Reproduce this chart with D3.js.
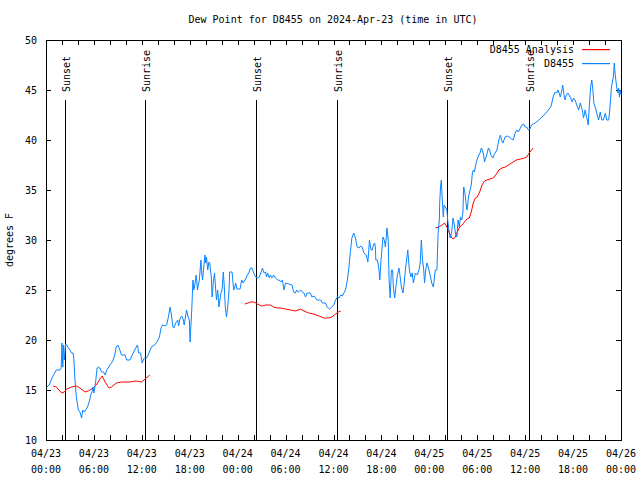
<!DOCTYPE html>
<html>
<head>
<meta charset="utf-8">
<script src="https://cdn.jsdelivr.net/npm/d3@7"></script>
<style>
body{margin:0;background:#fff;}
svg{display:block;}
text{font-family:"DejaVu Sans Mono","Liberation Mono",monospace;font-size:10px;fill:#000;}
</style>
</head>
<body>
<svg id="chart" width="640" height="480"></svg>
<script>
// ---- data (hours since 2024-04-23 00:00 UTC, degrees F) ----
const titleText = "Dew Point for D8455 on 2024-Apr-23 (time in UTC)";
const yLabel = "degrees F";
const seriesNames = ["D8455 Analysis", "D8455"];
const yTicks = [10, 15, 20, 25, 30, 35, 40, 45, 50];
const sunsets = [2.34, 26.3, 50.25];
const sunrises = [12.43, 36.48, 60.44];

const observed = [
[0.1,15.3],[0.4,15.5],[0.8,16.3],[1.3,17.0],[1.75,17.0],[1.9,17.2],[2.0,19.7],[2.1,17.3],[2.2,19.5],[2.3,18.0],[2.45,19.6],[2.6,19.5],[2.8,19.2],[3.0,19.0],[3.2,18.7],[3.4,18.7],[3.5,18.0],[3.6,16.3],[3.8,14.3],[4.05,13.0],[4.25,12.8],[4.46,12.2],[4.6,13.0],[4.8,12.8],[4.95,13.0],[5.2,13.3],[5.4,13.8],[5.6,14.5],[5.75,14.8],[5.9,15.3],[6.0,14.7],[6.2,15.7],[6.4,17.2],[6.55,17.3],[6.75,17.2],[6.96,16.8],[7.2,16.8],[7.4,16.5],[7.6,17.0],[7.8,17.2],[8.0,17.5],[8.2,17.7],[8.4,18.0],[8.6,18.5],[8.8,19.3],[9.0,19.5],[9.25,19.0],[9.46,18.5],[9.9,18.5],[10.1,18.0],[10.5,18.0],[10.8,18.5],[11.1,19.0],[11.46,19.5],[11.6,18.7],[11.85,18.7],[12.04,17.7],[12.3,18.2],[12.6,18.2],[12.9,18.7],[13.2,19.3],[13.6,19.5],
[13.9,19.8],[14.2,20.3],[14.4,21.2],[14.6,21.5],[14.9,21.4],[15.1,21.5],[15.3,22.2],[15.54,23.3],[15.7,22.5],[15.9,21.3],[16.0,21.2],[16.25,21.7],[16.5,22.0],[16.6,21.4],[16.8,22.2],[17.0,22.4],[17.2,22.0],[17.3,21.5],[17.4,22.0],[17.6,23.0],[17.8,22.3],[17.95,22.0],[18.04,19.8],[18.1,20.8],[18.25,23.0],[18.4,26.0],[18.5,25.0],[18.6,25.3],[18.8,26.5],[18.9,25.7],[18.96,25.0],[19.2,26.0],[19.4,28.0],[19.5,26.7],[19.6,26.0],[19.7,26.8],[19.9,28.5],[20.0,27.7],[20.1,28.3],[20.25,27.0],[20.4,27.8],[20.5,27.7],[20.7,26.3],[20.8,24.3],[20.95,25.8],[21.1,26.7],[21.25,25.0],[21.35,24.0],[21.5,25.0],[21.66,23.3],[21.9,24.7],[22.05,25.0],[22.2,26.8],[22.3,25.7],[22.45,23.3],[22.6,22.3],[22.75,23.3],[22.9,24.7],[23.0,26.8],[23.3,26.8],[23.5,25.0],[23.6,25.2],[23.75,25.7],[23.9,25.1],[24.3,25.1],[24.5,26.0],[24.7,25.7],[25.0,26.1],[25.2,26.5],[25.4,26.7],[25.6,27.2],[25.8,27.2],[26.0,26.7],[26.25,26.3],[26.46,26.2],[26.7,26.3],[26.9,26.7],[27.1,27.2],[27.3,26.7],[27.5,26.8],[27.6,26.3],[27.75,26.7],[27.96,26.2],[28.1,26.5],[28.3,26.2],[28.5,26.5],[28.75,26.2],[29.0,26.0],[29.2,26.0],[29.4,25.8],[29.6,26.0],[29.8,25.0],[30.0,25.7],[30.4,25.6],[30.8,25.5],[31.0,24.8],[31.2,24.7],[31.4,25.0],[31.6,24.8],[31.9,25.0],[32.1,24.8],[32.3,24.7],[32.5,24.3],[32.7,24.7],[33.1,24.7],[33.3,24.3],[33.6,24.4],[33.9,24.0],[34.4,24.0],[34.6,23.7],[35.0,23.7],[35.2,23.3],[35.5,23.1],[35.8,23.3],[36.04,23.5],[36.25,24.0],[36.5,24.3],[36.7,24.2],[36.9,24.5],[37.1,24.4],[37.3,24.7],[37.5,25.0],[37.7,25.8],[37.9,27.0],[38.1,28.7],[38.3,30.2],[38.54,30.7],[38.75,30.2],[38.96,29.3],[39.2,29.2],[39.4,29.4],[39.6,29.3],[39.8,28.7],[40.1,28.5],[40.3,27.8],[40.4,28.8],[40.5,30.0],[40.7,29.0],[40.85,29.0],[41.0,29.5],[41.15,29.7],[41.25,29.2],[41.3,28.0],[41.5,28.0],[41.7,27.0],[41.8,26.0],[41.95,28.0],[42.2,30.3],[42.35,30.0],[42.5,29.3],[42.7,31.2],[42.85,30.0],[42.96,26.0],[43.1,24.2],[43.25,27.0],[43.4,27.0],[43.5,25.2],[43.66,24.2],[43.8,25.2],[44.0,26.5],[44.2,27.2],[44.35,26.3],[44.5,25.3],[44.7,24.7],[44.85,25.7],[45.0,27.0],[45.3,29.0],[45.4,28.0],[45.5,27.0],[45.7,26.3],[45.85,26.7],[46.0,25.7],[46.25,26.7],[46.5,26.5],[46.7,27.0],[46.85,27.7],[47.0,30.0],[47.15,28.0],[47.3,27.0],[47.4,25.7],[47.55,27.0],[47.7,27.7],[47.9,27.2],[48.1,26.5],[48.3,25.7],[48.5,25.3],[48.75,27.0],[48.95,27.0],[49.1,30.7],[49.25,32.0],[49.3,33.7],[49.4,35.3],[49.5,36.0],[49.6,34.3],[49.75,32.3],[49.85,33.5],[50.05,33.2],[50.2,33.0],[50.3,32.0],[50.5,30.7],[50.6,30.2],[50.8,30.8],[50.96,32.2],[51.1,31.7],[51.3,30.5],[51.45,30.3],[51.6,32.0],[51.75,31.3],[51.9,32.3],[52.05,32.0],[52.2,32.7],[52.3,35.3],[52.45,34.8],[52.55,34.0],[52.7,33.0],[52.8,33.5],[52.9,34.3],[53.05,34.8],[53.25,35.5],[53.4,36.8],[53.55,37.0],[53.65,36.8],[53.8,37.5],[53.96,38.0],[54.2,38.5],[54.4,38.8],[54.5,39.2],[54.65,39.0],[54.8,38.5],[54.9,37.8],[55.1,38.3],[55.25,38.7],[55.4,39.2],[55.55,39.0],[55.7,38.5],[55.96,38.2],[56.1,38.5],[56.46,39.0],[56.7,40.0],[56.9,40.5],[57.05,40.0],[57.2,39.7],[57.35,40.0],[57.5,40.3],[57.75,40.4],[58.0,40.3],[58.3,40.1],[58.5,40.0],[58.75,40.7],[58.96,41.0],[59.15,40.8],[59.4,41.2],[59.6,41.5],[59.8,41.6],[60.0,41.3],[60.2,41.3],[60.4,41.0],[60.6,41.1],[60.8,41.5],[61.25,41.7],[61.7,42.0],[62.1,42.3],[62.5,42.6],[62.9,43.0],[63.2,43.3],[63.34,43.7],[63.5,44.3],[63.75,44.8],[63.95,44.7],[64.1,45.0],[64.25,44.7],[64.4,44.3],[64.6,45.0],[64.7,45.5],[64.9,44.3],[65.0,44.0],[65.15,44.5],[65.34,44.7],[65.5,44.5],[65.7,44.2],[65.9,43.8],[66.05,44.2],[66.25,44.0],[66.46,43.5],[66.7,43.0],[66.9,43.7],[67.05,43.3],[67.2,42.8],[67.3,42.2],[67.45,42.7],[67.5,43.0],[67.7,42.3],[67.9,41.5],[68.0,43.0],[68.2,45.3],[68.34,46.0],[68.45,45.3],[68.6,43.7],[68.8,43.2],[68.96,42.7],[69.2,42.0],[69.4,42.8],[69.6,42.0],[69.8,42.0],[70.04,42.7],[70.2,42.0],[70.46,42.0],[70.6,43.0],[70.8,45.3],[71.04,46.3],[71.16,47.7],[71.3,46.3],[71.46,45.3],[71.6,44.7],[71.7,45.2],[71.8,44.3],[71.9,45.0],[72.0,44.5]
];

const analysis1 = [[0.9,15.4],[1.3,15.3],[1.96,14.7],[2.3,14.8],[2.6,15.1],[3.2,15.3],[3.8,15.4],[4.25,15.2],[4.9,14.8],[5.3,14.9],[5.9,15.2],[6.3,15.5],[6.75,16.1],[7.04,16.4],[7.4,15.8],[7.9,15.2],[8.2,15.3],[8.8,15.7],[9.5,15.8],[10.5,15.8],[11.3,15.9],[11.96,15.8],[12.4,16.1],[13.0,16.5]];
const analysis2 = [[24.9,23.6],[25.3,23.7],[25.6,23.8],[25.96,23.8],[26.25,23.7],[26.7,23.5],[27.1,23.4],[27.5,23.5],[28.1,23.5],[28.5,23.3],[29.0,23.2],[29.4,23.2],[30.0,23.1],[30.6,23.0],[31.25,22.9],[31.9,23.1],[32.3,22.9],[32.9,22.7],[33.5,22.6],[34.2,22.4],[34.8,22.2],[35.4,22.2],[35.8,22.3],[36.25,22.6],[36.6,22.8],[36.9,22.9]];
const analysis3 = [[48.75,31.2],[49.2,31.3],[49.6,31.5],[49.9,31.7],[50.2,31.3],[50.5,30.7],[50.84,30.2],[51.0,30.1],[51.25,30.3],[51.5,30.8],[51.8,31.3],[52.1,31.5],[52.4,31.8],[52.7,32.1],[53.0,32.2],[53.25,32.8],[53.5,33.7],[53.75,34.2],[54.0,34.3],[54.3,34.8],[54.6,35.5],[54.9,35.9],[55.2,36.0],[55.6,36.1],[56.0,36.2],[56.4,36.6],[56.7,37.0],[57.1,37.2],[57.5,37.3],[57.9,37.5],[58.3,37.7],[58.9,38.0],[59.4,38.1],[59.9,38.2],[60.2,38.3],[60.5,38.7],[61.0,39.2]];

// ---- layout ----
const W = 640, H = 480;
const m = {left: 46, right: 19, top: 40, bottom: 40};
const t0 = Date.UTC(2024, 3, 23, 0, 0);
const toDate = h => new Date(t0 + h * 3600e3);

const svg = d3.select("#chart");
const x = d3.scaleUtc().domain([toDate(0), toDate(72)]).range([m.left, W - m.right]);
const y = d3.scaleLinear().domain([10, 50]).range([H - m.bottom, m.top]);

const BLUE = "#0a84ff", RED = "#ff0000";

// title
svg.append("text").attr("x", 333).attr("y", 23).attr("text-anchor", "middle").text(titleText);
// y label
svg.append("text").attr("transform", "translate(13,240) rotate(-90)").attr("text-anchor", "middle").text(yLabel);

// axes
const allTicks = d3.range(0, 73, 2).map(toDate);
const labelTicks = d3.range(0, 73, 6).map(toDate);
const fmtD = d3.utcFormat("%m/%d"), fmtT = d3.utcFormat("%H:%M");

const xb = svg.append("g").attr("transform", `translate(0,${H - m.bottom})`)
  .call(d3.axisBottom(x).tickValues(allTicks).tickSize(-5).tickFormat(""));
const xt = svg.append("g").attr("transform", `translate(0,${m.top})`)
  .call(d3.axisTop(x).tickValues(allTicks).tickSize(-5).tickFormat(""));
const yl = svg.append("g").attr("transform", `translate(${m.left},0)`)
  .call(d3.axisLeft(y).tickValues(yTicks).tickSize(-5).tickPadding(9));
const yr = svg.append("g").attr("transform", `translate(${W - m.right},0)`)
  .call(d3.axisRight(y).tickValues(yTicks).tickSize(-5).tickFormat(""));
[xb, xt, yl, yr].forEach(g => {
  g.select(".domain").remove();
  g.selectAll("line").attr("stroke", "#000").attr("shape-rendering", "crispEdges");
  g.selectAll("text").attr("font-family", null).attr("font-size", null);
});
yl.selectAll("text").attr("dy", "0.35em");

// x labels two lines
const xl = svg.append("g");
labelTicks.forEach(d => {
  const t = xl.append("text").attr("x", x(d)).attr("y", H - m.bottom + 17).attr("text-anchor", "middle");
  t.append("tspan").attr("x", x(d)).text(fmtD(d));
  t.append("tspan").attr("x", x(d)).attr("dy", 16).text(fmtT(d));
});

// border
svg.append("rect").attr("x", m.left).attr("y", m.top)
  .attr("width", W - m.left - m.right).attr("height", H - m.top - m.bottom)
  .attr("fill", "none").attr("stroke", "#000").attr("shape-rendering", "crispEdges");

// sunrise/sunset
const events = sunsets.map(h => ({h, name: "Sunset"})).concat(sunrises.map(h => ({h, name: "Sunrise"})));
events.forEach(e => {
  const xp = Math.round(x(toDate(e.h))) + 0.5;
  svg.append("line").attr("x1", xp).attr("x2", xp).attr("y1", 100).attr("y2", H - m.bottom)
    .attr("stroke", "#000").attr("shape-rendering", "crispEdges");
  svg.append("text").attr("transform", `translate(${xp + 4},92) rotate(-90)`).text(e.name);
});

// lines
const line = d3.line().x(d => x(toDate(d[0]))).y(d => y(d[1]));
[analysis1, analysis2, analysis3].forEach(seg => {
  svg.append("path").datum(seg).attr("d", line).attr("fill", "none").attr("stroke", RED).attr("stroke-width", 1);
});
svg.append("path").datum(observed).attr("d", line).attr("fill", "none").attr("stroke", BLUE).attr("stroke-width", 1);

// legend
const leg = [{name: seriesNames[0], c: RED, yy: 49}, {name: seriesNames[1], c: BLUE, yy: 63}];
leg.forEach(l => {
  svg.append("text").attr("x", 574).attr("y", l.yy).attr("dy", "0.35em").attr("text-anchor", "end").text(l.name);
  svg.append("rect").attr("x", 582).attr("y", l.yy).attr("width", 28).attr("height", 1.2)
    .attr("fill", l.c);
});
</script>
</body>
</html>
